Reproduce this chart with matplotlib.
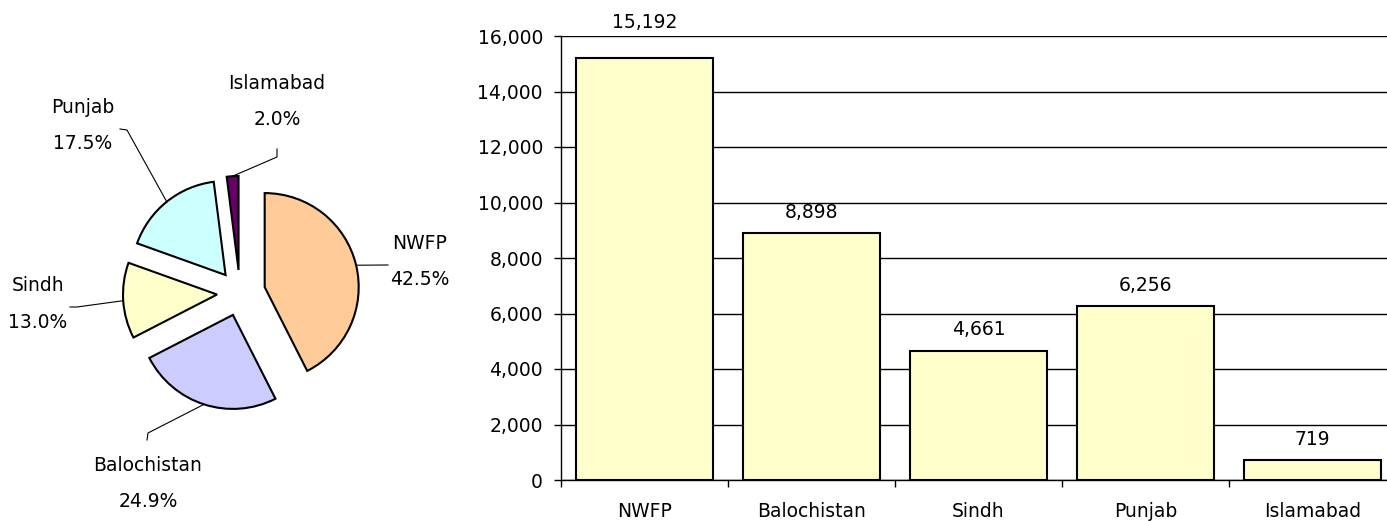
import numpy as np
import matplotlib
matplotlib.use("Agg")
import matplotlib.pyplot as plt

# ---- data ----
regions = ["NWFP", "Balochistan", "Sindh", "Punjab", "Islamabad"]
counts = [15192, 8898, 4661, 6256, 719]
pie_labels = ["42.5%", "24.9%", "13.0%", "17.5%", "2.0%"]
yticks = [0, 2000, 4000, 6000, 8000, 10000, 12000, 14000, 16000]

# ---- styles ----
pie_colors = ["#FFCC99", "#CCCCFF", "#FFFFCC", "#CCFFFF", "#660066"]
explode = [0.27, 0.245, 0.245, 0.245, 0.245]
bar_color = "#FFFFCC"
FS = 13.5
plt.rcParams["font.family"] = ["DejaVu Sans"]

W, H = 1387, 521
fig = plt.figure(figsize=(W / 100, H / 100), dpi=100)

# ---------------- pie (axes in pixel units) ----------------
pax = fig.add_axes([0, 0, 470 / W, 1])
cx, cy, R = 240, 228, 94
wedges, _ = pax.pie(counts, colors=pie_colors, explode=[e * R for e in explode],
                    startangle=90, counterclock=False, center=(cx, cy), radius=R,
                    wedgeprops=dict(edgecolor="black", linewidth=1.5))
pax.set_xlim(0, 470)
pax.set_ylim(0, H)
pax.set_aspect("equal")
pax.axis("off")

# label layout: (text centre, leader path after start point)
label_layout = {
    "NWFP": ((420, 259.5), [(388, 256)]),
    "Balochistan": ((148, 37.5), [(148, 88), (147, 81)]),
    "Sindh": ((38, 217), [(77, 214), (70, 214)]),
    "Punjab": ((83, 395.5), [(127, 391), (120, 392)]),
    "Islamabad": ((277, 419.5), [(277, 364), (277, 372)]),
}
for w, name, pct, ex in zip(wedges, regions, pie_labels, explode):
    mid = np.deg2rad((w.theta1 + w.theta2) / 2)
    sx = cx + (1 + ex) * R * np.cos(mid)
    sy = cy + (1 + ex) * R * np.sin(mid)
    (tx, ty), path = label_layout[name]
    xs = [sx] + [p[0] for p in path]
    ys = [sy] + [p[1] for p in path]
    pax.plot(xs, ys, color="black", lw=0.8)
    pax.text(tx, ty, f"{name}\n{pct}", ha="center", va="center",
             fontsize=FS, linespacing=2.15)

# ---------------- bar chart ----------------
left, right, top, bottom = 561, 1396, 36, 480
bax = fig.add_axes([left / W, (H - bottom) / H, (right - left) / W, (bottom - top) / H])
x = np.arange(len(regions))
bars = bax.bar(x, counts, width=0.82, color=bar_color, edgecolor="black",
               linewidth=1.5, zorder=3)
bax.set_xlim(-0.5, len(regions) - 0.5)
bax.set_ylim(0, 16000)
bax.set_yticks(yticks)
bax.set_yticklabels([f"{v:,}" for v in yticks], fontsize=FS)
bax.yaxis.grid(True, color="black", linewidth=1)
bax.set_axisbelow(True)
bax.set_xticks(x)
bax.set_xticklabels(regions, fontsize=FS)
bax.set_xticks(np.arange(len(regions) + 1) - 0.5, minor=True)
bax.tick_params(axis="x", which="major", length=0, pad=16)
bax.tick_params(axis="x", which="minor", length=5, width=1, direction="out")
bax.tick_params(axis="y", length=5, width=1, direction="out", pad=8)
for s in ["top", "right"]:
    bax.spines[s].set_visible(False)
for s in ["left", "bottom"]:
    bax.spines[s].set_linewidth(1)

label_offsets = [36, 21, 21, 21, 21]
for xi, v, off in zip(x, counts, label_offsets):
    bax.annotate(f"{v:,}", (xi, v), xytext=(0, off), textcoords="offset pixels",
                 ha="center", va="center", fontsize=FS, annotation_clip=False)

fig.savefig("out.png", dpi=100)
